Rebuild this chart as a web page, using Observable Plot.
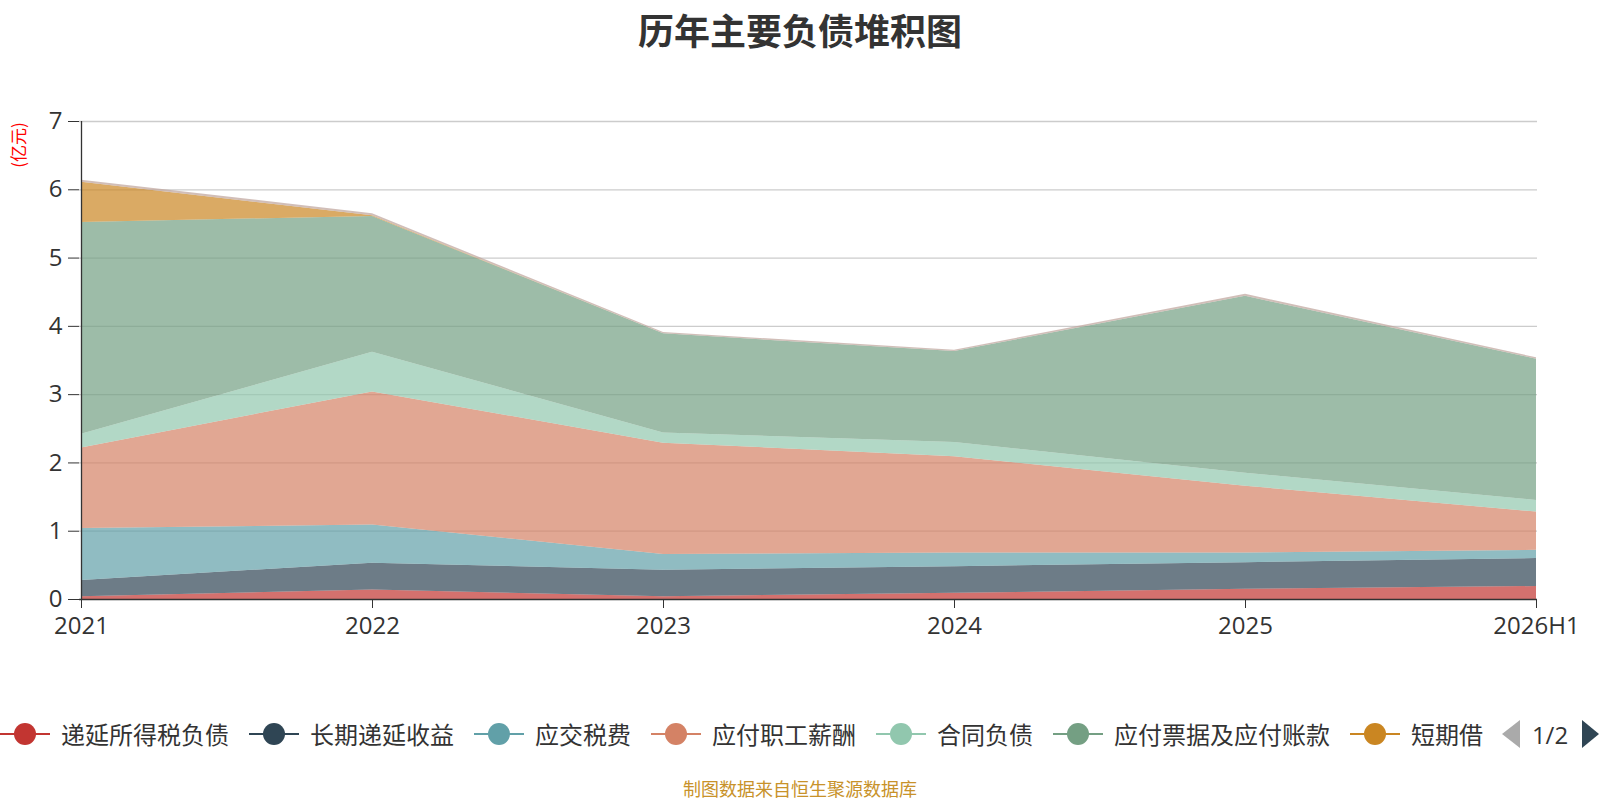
<!DOCTYPE html>
<html>
<head>
<meta charset="utf-8">
<script src="https://cdn.jsdelivr.net/npm/d3@7"></script>
<script src="https://cdn.jsdelivr.net/npm/@observablehq/plot@0.6"></script>
<style>
  body { margin: 0; background: #fff; }
  #wrap { position: relative; width: 1600px; height: 800px; overflow: hidden; font-family: 'Open Sans', 'Noto Sans CJK SC', sans-serif; color: #333; }
  #title { position: absolute; left: 0; top: 0; width: 1600px; height: 58px; line-height: 58px; text-align: center; font-size: 36px; font-weight: bold; color: #333; font-family: 'Noto Sans CJK SC', sans-serif; }
  #chart { position: absolute; left: 0; top: 60px; }
  #ylabel { position: absolute; left: 17px; top: 145px; transform: translate(-50%, -50%) rotate(-90deg); white-space: nowrap; line-height: 1; font-size: 17px; color: red; font-family: 'Noto Sans CJK SC', sans-serif; }
  #legend { position: absolute; left: 0; top: 719px; height: 30px; display: flex; align-items: center; font-family: 'Noto Sans CJK SC', sans-serif; }
  .item { display: flex; align-items: center; margin-right: 20px; }
  .item svg { display: block; margin-right: 11px; }
  .item span { font-size: 24px; line-height: 30px; color: #333; white-space: nowrap; }
  #pager { position: absolute; left: 1490px; top: 715px; }
  #caption { position: absolute; left: 0; top: 778px; width: 1600px; height: 20px; text-align: center; font-size: 18px; line-height: 20px; color: #c8922a; font-family: 'Noto Sans CJK SC', sans-serif; }
</style>
</head>
<body>
<div id="wrap">
  <div id="title">历年主要负债堆积图</div>
  <div id="chart"></div>
  <div id="ylabel">(亿元)</div>
  <div id="legend"></div>
  <div id="pager"></div>
  <div id="caption">制图数据来自恒生聚源数据库</div>
</div>
<script>
// ---- data (亿元) ----
const years = ["2021", "2022", "2023", "2024", "2025", "2026H1"];
const seriesNames = ["递延所得税负债", "长期递延收益", "应交税费", "应付职工薪酬", "合同负债", "应付票据及应付账款", "短期借款", "其他"];
const legendLabels = ["递延所得税负债", "长期递延收益", "应交税费", "应付职工薪酬", "合同负债", "应付票据及应付账款", "短期借"];
const deferredTaxLiab = [0.04, 0.14, 0.04, 0.09, 0.15, 0.19];
const longTermDeferredIncome = [0.24, 0.39, 0.39, 0.39, 0.39, 0.41];
const taxesPayable = [0.76, 0.56, 0.23, 0.20, 0.14, 0.12];
const payrollPayable = [1.18, 1.95, 1.63, 1.41, 0.98, 0.56];
const contractLiab = [0.20, 0.58, 0.15, 0.21, 0.19, 0.17];
const notesAccountsPayable = [3.10, 1.99, 1.45, 1.33, 2.59, 2.07];
const shortTermLoans = [0.59, 0.01, 0, 0, 0, 0];
const others = [0.03, 0.03, 0.02, 0.02, 0.03, 0.02];
const yTicks = [0, 1, 2, 3, 4, 5, 6, 7];

const palette = ["#c23531", "#2f4554", "#61a0a8", "#d48265", "#91c7ae", "#749f83", "#ca8622", "#bda29a"];

const seriesValues = [deferredTaxLiab, longTermDeferredIncome, taxesPayable, payrollPayable, contractLiab, notesAccountsPayable, shortTermLoans, others];
const data = seriesNames.flatMap((s, i) => years.map((y, j) => ({year: y, series: s, value: seriesValues[i][j]})));

const chart = Plot.plot({
  width: 1600,
  height: 590,
  marginLeft: 79,
  marginRight: 63,
  marginTop: 61,
  marginBottom: 51,
  style: {fontFamily: "'Open Sans','Noto Sans CJK SC',sans-serif", fontSize: "24px", color: "#333", background: "transparent", overflow: "visible"},
  x: {type: "point", domain: years, padding: 0, label: null},
  y: {domain: [0, 7], label: null},
  color: {domain: seriesNames, range: palette},
  marks: [
    Plot.gridY(yTicks.slice(1), {stroke: "#ccc", strokeOpacity: 1, strokeWidth: 1.3}),
    Plot.areaY(data, {x: "year", y: "value", fill: "series", order: seriesNames, fillOpacity: 0.7}),
    Plot.ruleY([0], {stroke: "#333", strokeWidth: 1.6}),
    Plot.ruleX([years[0]], {y1: 0, y2: 7, stroke: "#333", strokeWidth: 1.3}),
    Plot.axisY(yTicks, {tickSize: 11, tickPadding: 6, fontSize: 24, label: null, stroke: "#333", fill: "#333", tickFormat: d => String(d)}),
    Plot.axisX({tickSize: 9, tickPadding: 8, fontSize: 24, label: null, stroke: "#333", fill: "#333"})
  ]
});
document.getElementById("chart").appendChild(chart);

// ---- legend ----
const legend = d3.select("#legend");
legendLabels.forEach((name, i) => {
  const item = legend.append("div").attr("class", "item");
  const svg = item.append("svg").attr("width", 50).attr("height", 24);
  svg.append("line").attr("x1", 0).attr("x2", 50).attr("y1", 12).attr("y2", 12).attr("stroke", palette[i]).attr("stroke-width", 2);
  svg.append("circle").attr("cx", 25).attr("cy", 12).attr("r", 11).attr("fill", palette[i]);
  item.append("span").text(name);
});

const pager = d3.select("#pager").append("svg").attr("width", 110).attr("height", 40);
pager.append("polygon").attr("points", "30,5 12,19 30,33").attr("fill", "#aaa");
pager.append("text").attr("x", 60).attr("y", 19).attr("text-anchor", "middle").attr("dominant-baseline", "central")
  .attr("font-size", 24).attr("fill", "#333").attr("font-family", "'Open Sans',sans-serif").text("1/2");
pager.append("polygon").attr("points", "92,5 109,19 92,33").attr("fill", "#2f4554");
</script>
</body>
</html>
